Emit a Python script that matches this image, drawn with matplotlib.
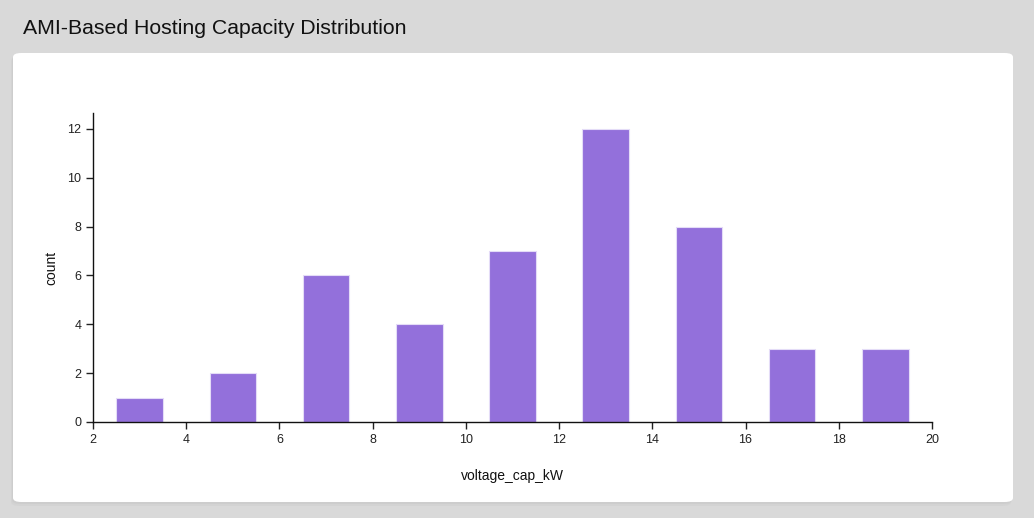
import matplotlib.pyplot as plt
from matplotlib.patches import FancyBboxPatch

# histogram bins (centres) and counts
bin_centers = [3, 5, 7, 9, 11, 13, 15, 17, 19]
counts = [1, 2, 6, 4, 7, 12, 8, 3, 3]
x_ticks = [2, 4, 6, 8, 10, 12, 14, 16, 18, 20]
y_ticks = [0, 2, 4, 6, 8, 10, 12]

plt.rcParams['font.family'] = ['Liberation Sans', 'DejaVu Sans']

W, H = 1034, 518
fig = plt.figure(figsize=(W / 100, H / 100), dpi=100)
fig.patch.set_facecolor('#d9d9d9')

# shadow + white card
for off, col in [(4, '#cfcfcf'), (2, '#c9c9c9')]:
    fig.patches.append(FancyBboxPatch(
        ((13 - off / 2) / W, (H - 502 - off) / H), 1000 / W, 449 / H,
        boxstyle='round,pad=0,rounding_size=0.008', transform=fig.transFigure,
        facecolor=col, edgecolor='none', alpha=0.5, zorder=0))
fig.patches.append(FancyBboxPatch(
    (13 / W, (H - 502) / H), 1000 / W, 449 / H,
    boxstyle='round,pad=0,rounding_size=0.008', transform=fig.transFigure,
    facecolor='white', edgecolor='none', zorder=1))

fig.text(23 / W, 1 - 28 / H, 'AMI-Based Hosting Capacity Distribution',
         fontsize=15.3, color='#111111', va='center', ha='left')

ax = fig.add_axes([93 / W, 96 / H, 839 / W, 309 / H])
ax.set_facecolor('none')
ax.set_zorder(2)

ax.bar(bin_centers, counts, width=1.0, color='#9370db',
       edgecolor='#e4dcf7', linewidth=0.8)

ax.set_xlim(2, 20)
ax.set_ylim(0, 12.65)
ax.set_xticks(x_ticks)
ax.set_yticks(y_ticks)
ax.tick_params(labelsize=9, colors='#222222', length=5, width=1)
for s in ['top', 'right']:
    ax.spines[s].set_visible(False)
for s in ['left', 'bottom']:
    ax.spines[s].set_color('#111111')
    ax.spines[s].set_linewidth(1)

ax.set_xlabel('voltage_cap_kW', fontsize=10, labelpad=17, color='#111111')
ax.set_ylabel('count', fontsize=10, labelpad=6, color='#111111')

fig.savefig('out.png', dpi=100, facecolor=fig.get_facecolor())
